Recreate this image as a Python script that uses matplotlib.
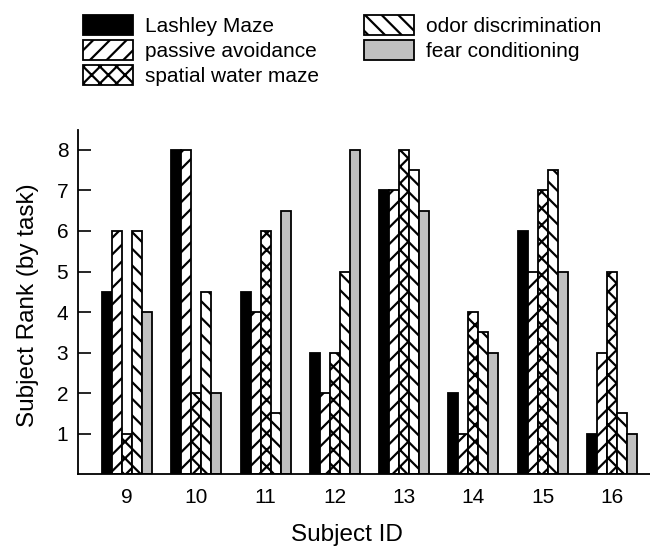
import matplotlib.pyplot as plt
import numpy as np

plt.rcParams['font.family'] = ['Liberation Sans', 'DejaVu Sans']
plt.rcParams['hatch.linewidth'] = 1.6

subjects = [9, 10, 11, 12, 13, 14, 15, 16]
tasks = ["Lashley Maze", "passive avoidance", "spatial water maze",
         "odor discrimination", "fear conditioning"]

lashley = [4.5, 8, 4.5, 3, 7, 2, 6, 1]
passive = [6, 8, 4, 2, 7, 1, 5, 3]
spatial = [1, 2, 6, 3, 8, 4, 7, 5]
odor = [6, 4.5, 1.5, 5, 7.5, 3.5, 7.5, 1.5]
fear = [4, 2, 6.5, 8, 6.5, 3, 5, 1]

series = [lashley, passive, spatial, odor, fear]
faces = ['black', 'white', 'white', 'white', '#c0c0c0']
hatches = [None, '//', 'xx', '\\\\', None]

fig = plt.figure(figsize=(6.5, 5.47), dpi=100)
ax = fig.add_axes([0.12, 0.133, 0.88, 0.63])

x = np.array(subjects, dtype=float)
w = 0.144
handles = []
for i, vals in enumerate(series):
    b = ax.bar(x + (i - 2) * w, vals, width=w, color=faces[i], edgecolor='black',
               linewidth=1.3, hatch=hatches[i], label=tasks[i])
    handles.append(b)

ax.set_xlim(8.29, 16.55)
ax.set_ylim(0, 8.5)
ax.set_xticks(subjects)
ax.set_yticks(range(1, 9))
ax.tick_params(axis='x', length=0, labelsize=15, pad=10)
ax.tick_params(axis='y', direction='in', length=9, width=1.2, labelsize=15, pad=7)
for s in ['top', 'right']:
    ax.spines[s].set_visible(False)
for s in ['left', 'bottom']:
    ax.spines[s].set_linewidth(1.3)

ax.set_xlabel("Subject ID", fontsize=17.5)
ax.set_ylabel("Subject Rank (by task)", fontsize=17.5)
ax.xaxis.set_label_coords(0.47, -0.145)
ax.yaxis.set_label_coords(-0.068, 0.49)

fig.legend(handles=handles, loc='upper left', bbox_to_anchor=(0.128, 0.972),
           ncol=2, frameon=False, fontsize=15, handlelength=2.4,
           handleheight=1.06, handletextpad=0.55, columnspacing=2.2,
           labelspacing=0.2, borderpad=0, borderaxespad=0)

fig.savefig('out.png', dpi=100)
